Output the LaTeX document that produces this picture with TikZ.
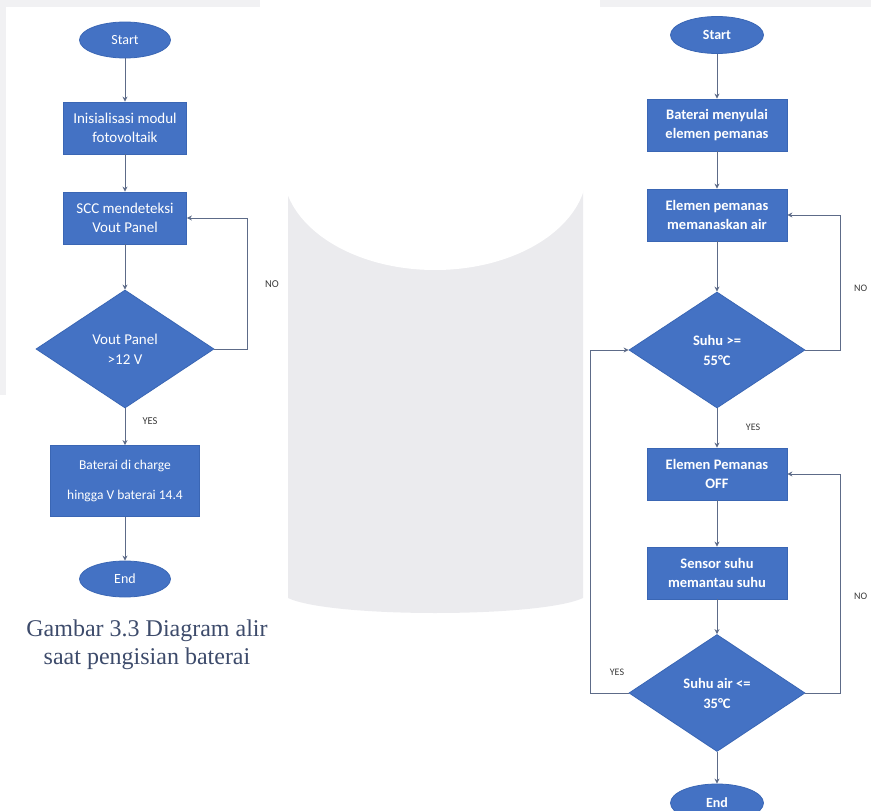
\documentclass[tikz,border=0pt]{standalone}
\usepackage{fontspec}
\setmainfont{Carlito}
\newfontfamily\capfont{Liberation Serif}
\usetikzlibrary{shapes.geometric,arrows.meta}
\definecolor{boxblue}{HTML}{4472C4}
\definecolor{boxedge}{HTML}{3A66B4}
\definecolor{linec}{HTML}{5D6B88}
\definecolor{capc}{HTML}{3D4B6B}
\definecolor{lblc}{HTML}{3A3A3A}
\definecolor{wm}{HTML}{EBEBEE}
\definecolor{wmlight}{HTML}{F1F1F3}
\tikzset{
  proc/.style={rectangle, fill=boxblue, draw=boxedge, line width=0.8pt, text=white,
    align=center, inner sep=0pt, minimum width=123pt, minimum height=52pt,
    font=\fontsize{15}{19}\selectfont},
  rproc/.style={proc, minimum width=140pt, minimum height=52pt,
    font=\fontsize{14.5}{19}\selectfont\bfseries},
  term/.style={ellipse, fill=boxblue, draw=boxedge, line width=0.8pt, text=white,
    inner sep=0pt, minimum width=91pt, minimum height=36pt,
    font=\fontsize{14}{16}\selectfont},
  dec/.style={diamond, fill=boxblue, draw=boxedge, line width=0.8pt, text=white,
    align=center, inner sep=0pt, aspect=1.5, minimum width=177pt, minimum height=117pt,
    font=\fontsize{15}{20}\selectfont},
  arr/.style={draw=linec, line width=1pt, -{Stealth[length=5pt,width=5pt]}},
  lbl/.style={text=lblc, inner sep=0pt, font=\fontsize{10.5}{12}\selectfont},
}
\begin{document}
\begin{tikzpicture}[x=1pt,y=-1pt]
\useasboundingbox (0,0) rectangle (871,811);
\clip (0,0) rectangle (871,811);
% faint background (scan / watermark)
\fill[wmlight] (0,0) rectangle (260,7);
\fill[wmlight] (600,0) rectangle (871,7);
\fill[wmlight] (0,0) rectangle (6,395);
\fill[wm] (288,170) -- (288,598) .. controls (330,618) and (540,618) .. (583,598)
  -- (583,170) -- cycle;
\fill[white] (435,170) ellipse [x radius=152, y radius=100];

% ---------- left flowchart ----------
\node[term] (ls) at (125,40) {Start};
\node[proc] (l1) at (125,128) {Inisialisasi modul\\fotovoltaik};
\node[proc] (l2) at (125,218) {SCC mendeteksi\\Vout Panel};
\node[dec, minimum width=178pt, minimum height=118pt] (ld) at (125,349) {Vout Panel\\>12 V};
\node[proc, minimum width=149pt, minimum height=71pt, font=\fontsize{13.5}{30}\selectfont]
  (l3) at (125,481) {Baterai di charge\\hingga V baterai 14.4};
\node[term] (le) at (125,579) {End};
\coordinate (lnx) at (247,349);

\draw[arr] (ls) -- (l1);
\draw[arr] (l1) -- (l2);
\draw[arr] (l2) -- (ld);
\draw[arr] (ld.east) -- (lnx) |- (l2.east);
\draw[arr] (ld.south) -- (l3);
\draw[arr] (l3) -- (le);
\node[lbl] (lno) at (272,284) {NO};
\node[lbl] (lyes) at (150,421) {YES};

\node[text=capc, align=center, inner sep=0pt, font=\capfont\fontsize{24}{28}\selectfont]
  (cap) at (147,645) {Gambar 3.3 Diagram alir\\saat pengisian baterai};

% ---------- right flowchart ----------
\node[term, minimum width=93pt, minimum height=37pt] (rs) at (717,35) {\bfseries Start};
\node[rproc] (r1) at (717,125) {Baterai menyulai\\elemen pemanas};
\node[rproc] (r2) at (717,215) {Elemen pemanas\\memanaskan air};
\node[dec, minimum width=176pt, minimum height=116pt, font=\fontsize{14.5}{20}\selectfont\bfseries]
  (rd1) at (717,350) {Suhu >=\\55°C};
\node[rproc] (r3) at (717,474) {Elemen Pemanas\\OFF};
\node[rproc] (r4) at (717,573) {Sensor suhu\\memantau suhu};
\node[dec, minimum width=176pt, minimum height=117pt, font=\fontsize{14.5}{20}\selectfont\bfseries]
  (rd2) at (717,693) {Suhu air <=\\35°C};
\node[term, minimum width=93pt, minimum height=38pt] (re) at (717,803) {\bfseries End};
\coordinate (rn1) at (840,350);
\coordinate (rn2) at (840,693);
\coordinate (ry2) at (590,693);

\draw[arr] (rs) -- (r1);
\draw[arr] (r1) -- (r2);
\draw[arr] (r2) -- (rd1);
\draw[arr] (rd1.east) -- (rn1) |- (r2.east);
\draw[arr] (rd1.south) -- (r3);
\draw[arr] (r3) -- (r4);
\draw[arr] (r4) -- (rd2);
\draw[arr] (rd2.east) -- (rn2) |- (r3.east);
\draw[arr] (rd2.west) -- (ry2) |- (rd1.west);
\draw[arr] (rd2.south) -- (re);
\node[lbl, font=\fontsize{10}{11}\selectfont] (ryes1) at (753,427) {YES};
\node[lbl, font=\fontsize{10}{11}\selectfont] (ryes2) at (617,672) {YES};
\node[lbl, font=\fontsize{10}{11}\selectfont, anchor=west] (rno1) at (854,288) {NO};
\node[lbl, font=\fontsize{10}{11}\selectfont, anchor=west] (rno2) at (854,596) {NO};
\end{tikzpicture}
\end{document}
